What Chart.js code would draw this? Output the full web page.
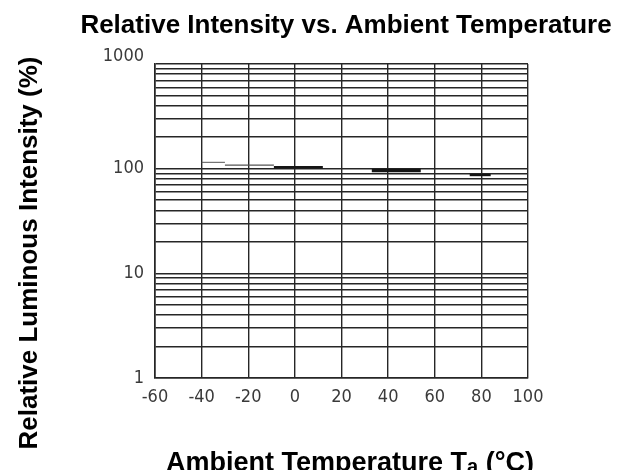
<!DOCTYPE html>
<html>
<head>
<meta charset="utf-8">
<script src="https://cdn.jsdelivr.net/npm/chart.js@4.4.0/dist/chart.umd.min.js"></script>
<style>
  html, body { margin: 0; padding: 0; background: #ffffff; }
  #wrap { width: 626px; height: 470px; position: relative; }
</style>
</head>
<body>
<div id="wrap"><canvas id="c" width="626" height="470"></canvas></div>
<script>
// ---- Data ----
const segmentStartTemp = [-40, -30, -9, 33, 75];      // °C
const segmentEndTemp   = [-30, -9, 12, 54, 84];       // °C
const segmentIntensity = [115, 108, 103, 96, 87];     // %
const xTickValues = [-60, -40, -20, 0, 20, 40, 60, 80, 100];
const yDecades = [1, 10, 100];
const yMajorLabels = [1, 10, 100, 1000];

const titleText = 'Relative Intensity vs. Ambient Temperature';
const yTitleText = 'Relative Luminous Intensity (%)';
const xTitleMain = 'Ambient Temperature T';
const xTitleSub = 'a';
const xTitleEnd = ' (°C)';

// ---- Styles (kept separate from data) ----
const segWidths = [1, 1.3, 2.6, 3.6, 2.4];
const segColors = ['#555555', '#555555', '#151515', '#151515', '#151515'];
const gridColor = '#262626';
const tickFont = '"Liberation Sans Narrow", "DejaVu Sans Condensed", sans-serif';

const yGridValues = [];
yDecades.forEach(d => { for (let m = 1; m <= 9; m++) yGridValues.push(d * m); });
yGridValues.push(1000);

const datasets = segmentStartTemp.map((s, i) => ({
  data: [{x: s, y: segmentIntensity[i]}, {x: segmentEndTemp[i], y: segmentIntensity[i]}],
  showLine: true,
  borderColor: segColors[i],
  borderWidth: segWidths[i],
  pointRadius: 0,
  borderCapStyle: 'butt',
  fill: false
}));

const titlesPlugin = {
  id: 'titles',
  afterDraw(chart) {
    const ctx = chart.ctx;
    ctx.save();
    ctx.fillStyle = '#000';
    ctx.textBaseline = 'alphabetic';
    const bold = sz => 'bold ' + sz + 'px "Liberation Sans", Arial, sans-serif';
    // main title
    ctx.font = bold(26);
    ctx.textAlign = 'center';
    ctx.fillText(titleText, 346, 33);
    // y title
    ctx.save();
    ctx.translate(37, 253);
    ctx.rotate(-Math.PI / 2);
    ctx.fillText(yTitleText, 0, 0);
    ctx.restore();
    // x title with subscript
    ctx.textAlign = 'left';
    ctx.font = bold(27);
    const w1 = ctx.measureText(xTitleMain).width;
    const w3 = ctx.measureText(xTitleEnd).width;
    ctx.font = bold(20);
    const w2 = ctx.measureText(xTitleSub).width;
    const total = w1 + w2 + w3;
    let x = 350 - total / 2;
    const base = 471;
    ctx.font = bold(27); ctx.fillText(xTitleMain, x, base); x += w1;
    ctx.font = bold(20); ctx.fillText(xTitleSub, x, base + 2); x += w2;
    ctx.font = bold(27); ctx.fillText(xTitleEnd, x, base);
    ctx.restore();
  }
};

new Chart(document.getElementById('c'), {
  type: 'scatter',
  data: { datasets },
  options: {
    responsive: false,
    animation: false,
    devicePixelRatio: 1,
    layout: { padding: { left: 95, right: 98, top: 64, bottom: 52 } },
    plugins: { legend: { display: false }, tooltip: { enabled: false }, title: { display: false } },
    scales: {
      x: {
        type: 'linear',
        min: -60, max: 100,
        afterBuildTicks(scale) { scale.ticks = xTickValues.map(v => ({value: v})); },
        afterFit(scale) { scale.height = 40; },
        grid: { color: gridColor, lineWidth: 1.4, drawTicks: false },
        border: { color: gridColor, width: 1.6 },
        ticks: {
          padding: 9,
          color: '#3a3a3a',
          font: { family: tickFont, size: 18 }
        }
      },
      y: {
        type: 'logarithmic',
        min: 1, max: 1000,
        afterBuildTicks(scale) { scale.ticks = yGridValues.map(v => ({value: v})); },
        afterFit(scale) { scale.width = 60; },
        grid: { color: gridColor, lineWidth: 1.4, drawTicks: false },
        border: { color: gridColor, width: 1.6 },
        ticks: {
          padding: 11,
          color: '#3a3a3a',
          autoSkip: false,
          font: { family: tickFont, size: 18, lineHeight: 0.8 },
          callback: v => {
            if (!yMajorLabels.includes(v)) return '';
            if (v === 1000) return ['1000', ''];
            return String(v);
          }
        }
      }
    }
  },
  plugins: [titlesPlugin]
});
</script>
</body>
</html>
